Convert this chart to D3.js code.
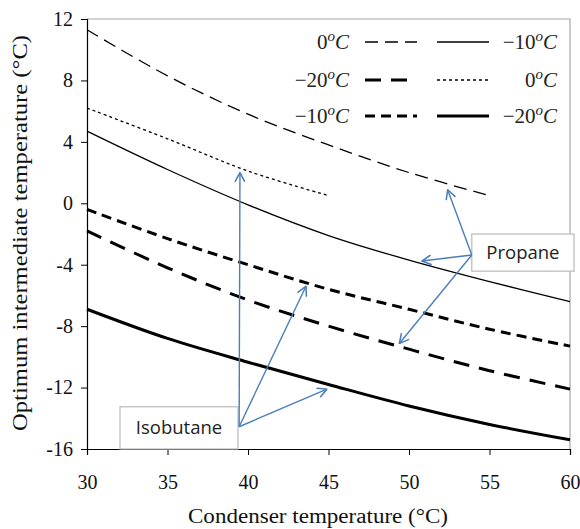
<!DOCTYPE html>
<html>
<head>
<meta charset="utf-8">
<script src="https://d3js.org/d3.v7.min.js"></script>
<style>
    body {margin: 0; background: #fff;}
    .tick text {font-family: "Liberation Serif", serif; font-size: 20px; fill: #111;}
    .axis-title {font-family: "Liberation Serif", serif; font-size: 20px; fill: #111;}
    .leg {font-family: "Liberation Serif", serif; font-size: 21px; fill: #222;}
    .note {font-family: "Open Sans", sans-serif; font-size: 18.5px; fill: #222;}
</style>
</head>
<body>
<div id="chart"></div>
<script>
    // condenser temperature (x) and optimum intermediate temperature (y)
    let condTemp = [30, 35, 40, 45, 50, 55, 60];
    let propane0 = [11.3, 8.3, 5.8, 3.8, 2.0, 0.5];
    let propaneM10 = [4.7, 2.2, -0.1, -2.1, -3.7, -5.1, -6.4];
    let propaneM20 = [-1.8, -4.2, -6.3, -8.0, -9.5, -10.9, -12.1];
    let isobutane0 = [6.2, 4.2, 2.1, 0.5];
    let isobutaneM10 = [-0.4, -2.3, -4.0, -5.6, -6.9, -8.2, -9.3];
    let isobutaneM20 = [-6.9, -8.8, -10.35, -11.8, -13.2, -14.4, -15.4];

    let xTicks = [30, 35, 40, 45, 50, 55, 60];
    let yTicks = [-16, -12, -8, -4, 0, 4, 8, 12];

    // annotation arrows, in data units
    let isoFrom = [39.45, -14.55];
    let isoTargets = [[39.5, 2.0], [43.6, -5.4], [44.9, -12.1]];
    let proFrom = [53.9, -3.37];
    let proTargets = [[52.4, 0.88], [50.8, -3.76], [49.4, -9.13]];

    let margin = {top: 19, right: 10, bottom: 80, left: 87},
        width = 580 - margin.left - margin.right,
        height = 529 - margin.top - margin.bottom;

    let x = d3.scaleLinear().domain([30, 60]).range([0, width]);
    let y = d3.scaleLinear().domain([-16, 12]).range([height, 0]);

    let series = [
        {name: "propane0", values: propane0, width: 1.3, dash: "13,7", label: "0", col: 0, row: 0},
        {name: "propaneM10", values: propaneM10, width: 1.3, dash: null, label: "\u221210", col: 1, row: 0},
        {name: "propaneM20", values: propaneM20, width: 3, dash: "16,10", label: "\u221220", col: 0, row: 1},
        {name: "isobutane0", values: isobutane0, width: 1.3, dash: "3,3", label: "0", col: 1, row: 1},
        {name: "isobutaneM10", values: isobutaneM10, width: 3, dash: "10,6", label: "\u221210", col: 0, row: 2},
        {name: "isobutaneM20", values: isobutaneM20, width: 3, dash: null, label: "\u221220", col: 1, row: 2}
    ];

    let svg = d3.select("#chart").append("svg")
        .attr("width", 580)
        .attr("height", 529);

    let defs = svg.append("defs");
    defs.append("marker")
        .attr("id", "head")
        .attr("viewBox", "0 0 10 10")
        .attr("refX", 9.5).attr("refY", 5)
        .attr("markerWidth", 11).attr("markerHeight", 11)
        .attr("markerUnits", "userSpaceOnUse")
        .attr("orient", "auto")
        .append("path")
        .attr("d", "M1,0.5 L9.5,5 L1,9.5")
        .attr("fill", "none")
        .attr("stroke", "#4a7ebb")
        .attr("stroke-width", 1.4);

    let g = svg.append("g")
        .attr("transform", "translate(" + margin.left + "," + margin.top + ")");

    // plot frame (top and right in grey)
    g.append("path")
        .attr("d", "M0,0 H" + width + " V" + height)
        .attr("fill", "none")
        .attr("stroke", "#a6a6a6")
        .attr("stroke-width", 1.2);

    let line = d3.line()
        .x(function(d, i) { return x(condTemp[i]); })
        .y(function(d) { return y(d); })
        .curve(d3.curveCatmullRom);

    g.selectAll(".series")
        .data(series)
        .enter().append("path")
        .attr("class", "series")
        .attr("d", function(d) { return line(d.values); })
        .attr("fill", "none")
        .attr("stroke", "#000")
        .attr("stroke-width", function(d) { return d.width; })
        .attr("stroke-dasharray", function(d) { return d.dash; });

    // axes
    let xAxis = d3.axisBottom(x).tickValues(xTicks).tickSize(6).tickPadding(20);
    let yAxis = d3.axisLeft(y).tickValues(yTicks).tickSize(6).tickPadding(8)
        .tickFormat(function(d) { return String(d); });

    g.append("g")
        .attr("transform", "translate(0," + height + ")")
        .call(xAxis)
        .call(function(s) { s.select(".domain").attr("stroke-width", 1.2); });

    g.append("g")
        .call(yAxis)
        .call(function(s) { s.select(".domain").attr("stroke-width", 1.2); });

    svg.append("text")
        .attr("class", "axis-title")
        .attr("x", 318).attr("y", 523)
        .attr("text-anchor", "middle")
        .attr("textLength", 260)
        .attr("lengthAdjust", "spacingAndGlyphs")
        .text("Condenser temperature (\u00B0C)");

    svg.append("text")
        .attr("class", "axis-title")
        .attr("transform", "translate(27,233) rotate(-90)")
        .attr("text-anchor", "middle")
        .attr("textLength", 396)
        .attr("lengthAdjust", "spacingAndGlyphs")
        .text("Optimum intermediate temperature (\u00B0C)");

    // legend
    let rowY = [42, 80, 116];
    let legend = svg.append("g");
    series.forEach(function(s) {
        let yy = rowY[s.row];
        let x0 = s.col === 0 ? 365 : 437;
        legend.append("line")
            .attr("x1", x0).attr("x2", x0 + 52)
            .attr("y1", yy).attr("y2", yy)
            .attr("stroke", "#000")
            .attr("stroke-width", s.width)
            .attr("stroke-dasharray", s.dash);
        let t = legend.append("text")
            .attr("class", "leg")
            .attr("x", s.col === 0 ? 349 : 557)
            .attr("y", yy + 7)
            .attr("text-anchor", "end");
        t.append("tspan").text(s.label);
        t.append("tspan").attr("dy", -8).attr("font-style", "italic").attr("font-size", 15).text("o");
        t.append("tspan").attr("dy", 8).attr("font-style", "italic").text("C");
    });

    // annotations
    function noteBox(x0, x1, y0, y1, label) {
        g.append("rect")
            .attr("x", x(x0)).attr("y", y(y0))
            .attr("width", x(x1) - x(x0)).attr("height", y(y1) - y(y0))
            .attr("fill", "#fff")
            .attr("stroke", "#bfbfbf")
            .attr("stroke-width", 1.3);
        g.append("text")
            .attr("class", "note")
            .attr("x", (x(x0) + x(x1)) / 2)
            .attr("y", (y(y0) + y(y1)) / 2 + 6.5)
            .attr("text-anchor", "middle")
            .text(label);
    }

    function arrows(from, targets) {
        g.selectAll(null)
            .data(targets)
            .enter().append("line")
            .attr("x1", x(from[0])).attr("y1", y(from[1]))
            .attr("x2", function(d) { return x(d[0]); })
            .attr("y2", function(d) { return y(d[1]); })
            .attr("stroke", "#4a7ebb")
            .attr("stroke-width", 1.4)
            .attr("marker-end", "url(#head)");
    }

    noteBox(32.05, 39.38, -13.25, -16, "Isobutane");
    noteBox(53.9, 60.25, -2.0, -4.42, "Propane");
    arrows(isoFrom, isoTargets);
    arrows(proFrom, proTargets);
</script>
</body>
</html>
